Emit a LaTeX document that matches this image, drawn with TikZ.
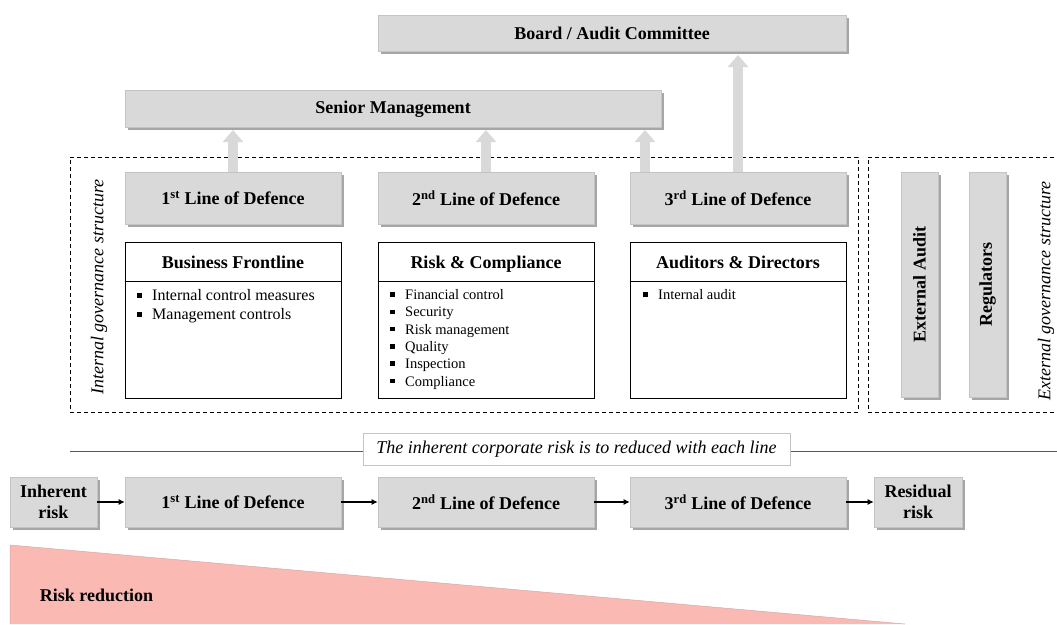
\documentclass[tikz,border=0pt]{standalone}
\usepackage{fontspec}
\setmainfont{Liberation Serif}
\usetikzlibrary{shadows,arrows.meta}
\definecolor{boxgray}{HTML}{D9D9D9}
\definecolor{boxedge}{HTML}{C4C4C4}
\definecolor{riskred}{HTML}{FBB9B4}
\definecolor{linegray}{HTML}{595959}
\newcommand\bul{\makebox[15pt][l]{\rule[2.8pt]{4.5pt}{4.5pt}}}
\begin{document}
\begin{tikzpicture}[x=1pt,y=-1pt,
  graybox/.style={draw=boxedge, line width=0.6pt, fill=boxgray, inner sep=0pt,
    font=\fontsize{18}{21.5}\selectfont\bfseries, align=center,
    drop shadow={shadow xshift=2.5pt, shadow yshift=-2.5pt, fill=black, opacity=0.35}},
  whitebox/.style={draw=black, line width=0.9pt, fill=white, inner sep=0pt},
  dashbox/.style={draw=black, line width=0.8pt, dash pattern=on 4pt off 3pt, inner sep=0pt},
  uparrow/.style={draw=boxgray, line width=10pt, -{Triangle[width=20pt,length=12pt]}},
  flow/.style={draw=black, line width=1.1pt, -{Latex[length=6pt,width=6pt]}},
  titletext/.style={font=\fontsize{18}{21}\selectfont\bfseries, inner sep=0pt, text height=12pt, text depth=4pt},
  itemA/.style={anchor=base west, inner sep=0pt, font=\fontsize{16}{18}\selectfont},
  itemB/.style={anchor=base west, inner sep=0pt, font=\fontsize{14.5}{16}\selectfont},
  sidelabel/.style={rotate=90, font=\fontsize{18}{21}\selectfont\itshape},
]
\useasboundingbox (0,0) rectangle (1057,624);

% dashed structure boxes
\node[dashbox, minimum width=788pt, minimum height=255pt] (intbox) at (464,284.5) {};
\node[dashbox, minimum width=200pt, minimum height=255pt] (extbox) at (968,284.5) {};
\node[sidelabel] (intlabel) at (99,287) {Internal governance structure};
\node[sidelabel] (extlabel) at (1046,291) {External governance structure};

% top boxes
\node[graybox, minimum width=468pt, minimum height=36pt] (board) at (612,33) {Board / Audit Committee};
\node[graybox, minimum width=536pt, minimum height=37pt, text height=12pt, text depth=2pt] (senior) at (393,108.5) {Senior Management};

% lines of defence
\node[graybox, minimum width=216pt, minimum height=52pt] (l1) at (233,198) {1\textsuperscript{st} Line of Defence};
\node[graybox, minimum width=216pt, minimum height=52pt] (l2) at (486,198) {2\textsuperscript{nd} Line of Defence};
\node[graybox, minimum width=216pt, minimum height=52pt] (l3) at (738,198) {3\textsuperscript{rd} Line of Defence};

% arrows up
\coordinate (a1b) at (233,172); \coordinate (a1t) at (233,130);
\coordinate (a2b) at (486,172); \coordinate (a2t) at (486,130);
\coordinate (a3b) at (645,172); \coordinate (a3t) at (645,130);
\coordinate (a4b) at (738,172); \coordinate (a4t) at (738,55);
\draw[uparrow] (a1b) -- (a1t);
\draw[uparrow] (a2b) -- (a2t);
\draw[uparrow] (a3b) -- (a3t);
\draw[uparrow] (a4b) -- (a4t);

% white boxes
\node[whitebox, minimum width=216pt, minimum height=156pt] (bf) at (233,320) {};
\node[whitebox, minimum width=216pt, minimum height=156pt] (rc) at (486,320) {};
\node[whitebox, minimum width=216pt, minimum height=156pt] (ad) at (738,320) {};
\draw[line width=0.9pt] (bf.west |- 0,281) -- (bf.east |- 0,281);
\draw[line width=0.9pt] (rc.west |- 0,281) -- (rc.east |- 0,281);
\draw[line width=0.9pt] (ad.west |- 0,281) -- (ad.east |- 0,281);
\node[titletext] (bft) at (233,264) {Business Frontline};
\node[titletext] (rct) at (486,264) {Risk \& Compliance};
\node[titletext] (adt) at (738,264) {Auditors \& Directors};

\node[itemA] (bf1) at (137,300.5) {\bul Internal control measures};
\node[itemA] (bf2) at (137,319.5) {\bul Management controls};

\node[itemB] (rc1) at (390,299.5) {\bul Financial control};
\node[itemB] (rc2) at (390,316.8) {\bul Security};
\node[itemB] (rc3) at (390,334.1) {\bul Risk management};
\node[itemB] (rc4) at (390,351.4) {\bul Quality};
\node[itemB] (rc5) at (390,368.7) {\bul Inspection};
\node[itemB] (rc6) at (390,386) {\bul Compliance};

\node[itemB] (ad1) at (643,299.5) {\bul Internal audit};

% external boxes
\node[graybox, minimum width=37pt, minimum height=225pt] (extaudit) at (919.5,284.5) {};
\node[graybox, minimum width=37pt, minimum height=225pt] (regul) at (987.5,284.5) {};
\node[font=\fontsize{18}{21}\selectfont\bfseries, rotate=90] (extauditt) at (extaudit) {External Audit};
\node[font=\fontsize{18}{21}\selectfont\bfseries, rotate=90] (regult) at (regul) {Regulators};

% separator
\coordinate (sepl) at (70,451);
\coordinate (sepr) at (1057,451);
\draw[linegray, line width=0.8pt] (sepl) -- (sepr);
\node[draw=boxedge, line width=0.6pt, fill=white, inner sep=0pt, minimum width=427pt, minimum height=32pt,
  font=\fontsize{18}{21}\selectfont\itshape] (note) at (576.5,449) {The inherent corporate risk is to reduced with each line};

% bottom flow
\node[graybox, minimum width=87pt, minimum height=50pt] (inh) at (53.5,502) {Inherent\\risk};
\node[graybox, minimum width=216pt, minimum height=50pt] (b1) at (233,502) {1\textsuperscript{st} Line of Defence};
\node[graybox, minimum width=216pt, minimum height=50pt] (b2) at (486,502) {2\textsuperscript{nd} Line of Defence};
\node[graybox, minimum width=216pt, minimum height=50pt] (b3) at (738,502) {3\textsuperscript{rd} Line of Defence};
\node[graybox, minimum width=88pt, minimum height=50pt] (res) at (918,502) {Residual\\risk};
\draw[flow] (inh) -- (b1);
\draw[flow] (b1) -- (b2);
\draw[flow] (b2) -- (b3);
\draw[flow] (b3) -- (res);

% risk reduction wedge
\fill[riskred] (10,545) -- (10,624) -- (905,624) -- cycle;
\draw[riskred!70!gray, line width=0.5pt] (10,624) -- (10,545) -- (905,624);
\node[font=\fontsize{18}{21}\selectfont\bfseries] (rr) at (96.5,595) {Risk reduction};
\end{tikzpicture}
\end{document}
